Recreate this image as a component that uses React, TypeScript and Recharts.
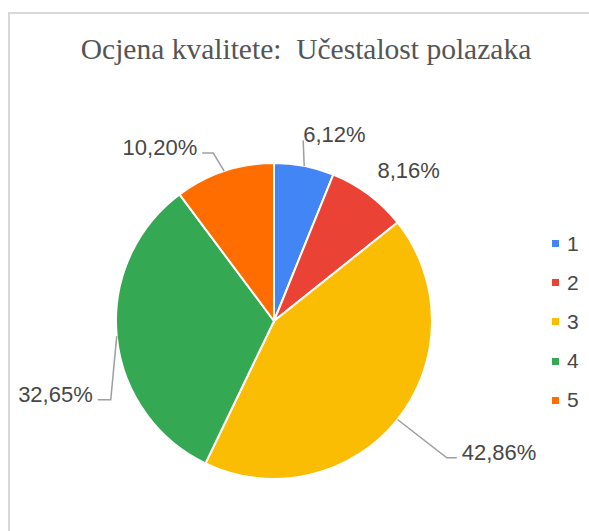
import { PieChart, Pie, Cell, Legend } from 'recharts';

// Ocjena kvalitete – answers per grade (49 responses)
const categories = ['1', '2', '3', '4', '5'];
const counts = [3, 4, 21, 16, 5];
const sliceColors = ['#4285F4', '#EA4335', '#FBBC04', '#34A853', '#FF6D01'];
const title = 'Ocjena kvalitete:  Učestalost polazaka';

// leader line tuning, Google style (per slice, in slice order)
const labelLayout = [
  { ext: 26, dx: -6, dy: 0, run: 0, line: true },
  { ext: 20, dx: -3, dy: -2, run: 0, line: false },
  { ext: 63, dx: 0, dy: -1, run: 10, line: true },
  { ext: 6, dx: 0, dy: 63, run: 13, line: true },
  { ext: 19, dx: -5, dy: 0, run: 11, line: true },
];

const chartData = categories.map((name, i) => ({ name, value: counts[i] }));

const FONT = '"Liberation Sans", Arial, sans-serif';

function renderLabel(props: any) {
  const { cx, cy, midAngle, outerRadius, index, percent } = props;
  const rad = Math.PI / 180;
  const cos = Math.cos(-midAngle * rad);
  const sin = Math.sin(-midAngle * rad);
  const x0 = cx + outerRadius * cos;
  const y0 = cy + outerRadius * sin;
  const L = labelLayout[index];
  const x1 = x0 + L.ext * cos + L.dx;
  const y1 = y0 + L.ext * sin + L.dy;
  const right = Math.cos(midAngle * rad) >= 0;
  const x2 = x1 + (right ? L.run : -L.run);
  const tx = x2 + (L.run ? (right ? 5 : -5) : 0);
  const text = (percent * 100).toFixed(2).replace('.', ',') + '%';

  return (
    <g>
      {L.line && (
        <polyline
          points={`${x0},${y0} ${x1},${y1} ${x2},${y1}`}
          fill="none"
          stroke="#9e9e9e"
          strokeWidth={1.5}
        />
      )}
      <text
        x={tx}
        y={y1 + 2}
        textAnchor={right ? 'start' : 'end'}
        fill="#474747"
        fontSize={22}
        fontFamily={FONT}
      >
        {text}
      </text>
    </g>
  );
}

function LegendContent({ payload }: any) {
  return (
    <div style={{ fontFamily: FONT, fontSize: 21, color: '#474747' }}>
      {(payload || []).map((entry: any, i: number) => (
        <div key={i} style={{ display: 'flex', alignItems: 'center', height: 39.2 }}>
          <span style={{ width: 7, height: 7, background: entry.color, marginRight: 8 }} />
          <span>{entry.value}</span>
        </div>
      ))}
    </div>
  );
}

export default function App() {
  return (
    <div style={{ position: 'absolute', left: 0, top: 0, width: 589, height: 531, overflow: 'hidden', background: '#fff' }}>
      <div
        style={{
          position: 'absolute',
          left: 8,
          top: 12,
          width: 700,
          height: 700,
          borderLeft: '2px solid #d8d8d8',
          borderTop: '2px solid #d8d8d8',
        }}
      />
      <div
        style={{
          position: 'absolute',
          left: 8,
          top: 29,
          width: 596,
          lineHeight: '40px',
          textAlign: 'center',
          fontFamily: '"Liberation Serif", "Times New Roman", serif',
          fontSize: 29.5,
          color: '#555',
          whiteSpace: 'pre',
        }}
      >
        {title}
      </div>
      <div style={{ position: 'absolute', left: 0, top: 0 }}>
        <PieChart width={589} height={531} margin={{ top: 0, right: 0, bottom: 0, left: 0 }}>
          <Pie
            data={chartData}
            dataKey="value"
            nameKey="name"
            cx={274}
            cy={321}
            outerRadius={158}
            startAngle={90}
            endAngle={-270}
            stroke="#fff"
            strokeWidth={2}
            label={renderLabel}
            labelLine={false}
            isAnimationActive={false}
          >
            {chartData.map((d, i) => (
              <Cell key={d.name} fill={sliceColors[i]} />
            ))}
          </Pie>
          <Legend
            layout="vertical"
            align="right"
            verticalAlign="middle"
            content={<LegendContent />}
            wrapperStyle={{ left: 552, top: 224, width: 36 }}
          />
        </PieChart>
      </div>
    </div>
  );
}
